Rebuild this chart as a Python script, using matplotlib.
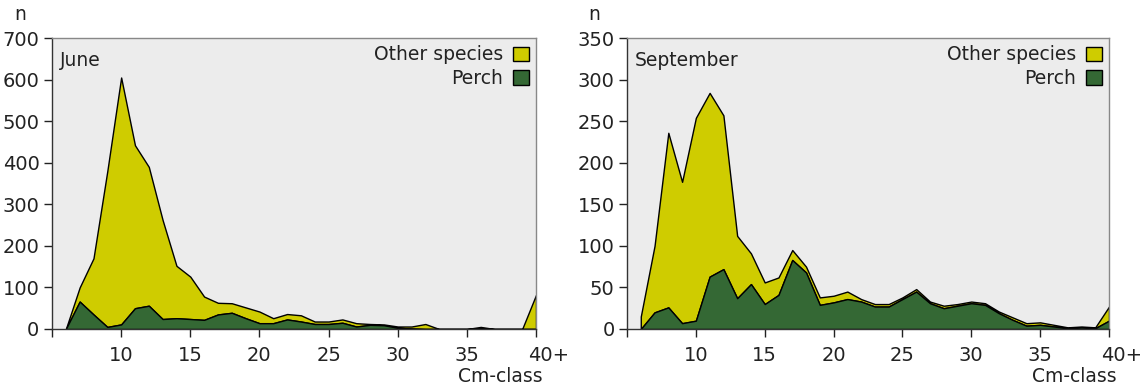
import matplotlib
matplotlib.use("Agg")
import matplotlib.pyplot as plt
from matplotlib.patches import Patch
from matplotlib.transforms import ScaledTranslation

plt.rcParams['font.family'] = ['DejaVu Sans']

# length classes (cm), 40 = "40+"
cm_class = list(range(6, 41))

# June catch
june_perch = [0, 66, 35, 5, 11, 50, 56, 24, 26, 24, 22, 35, 39, 26, 14, 14, 23, 18,
              12, 12, 15, 6, 10, 9, 3, 1, 0, 0, 0, 0, 2, 0, 0, 0, 0]
june_other = [0, 34, 135, 375, 594, 392, 334, 238, 126, 102, 56, 28, 23, 26, 28, 12, 13, 15,
              6, 6, 8, 8, 2, 2, 3, 5, 12, 0, 0, 0, 3, 0, 0, 0, 82]

# September catch
sept_perch = [0, 20, 26, 7, 10, 63, 72, 37, 54, 30, 41, 83, 68, 29, 32, 36, 33, 27,
              27, 36, 45, 31, 25, 28, 31, 29, 19, 11, 4, 5, 3, 1, 2, 1, 10]
sept_other = [15, 80, 210, 170, 244, 221, 185, 75, 37, 26, 21, 12, 7, 9, 8, 9, 3, 3,
              3, 2, 3, 2, 3, 2, 2, 2, 2, 3, 3, 3, 2, 1, 1, 1, 17]

YELLOW = '#cfcc00'
GREEN = '#346834'

fig = plt.figure(figsize=(11.44, 3.9), dpi=100)
ax1 = fig.add_axes([52 / 1144, 61 / 390, 484 / 1144, 291 / 390])
ax2 = fig.add_axes([627 / 1144, 61 / 390, 482 / 1144, 291 / 390])


def draw(ax, perch, other, title, ymax, ystep):
    total = [p + o for p, o in zip(perch, other)]
    ax.set_facecolor('#ececec')
    ax.fill_between(cm_class, perch, total, facecolor=YELLOW, edgecolor='black', lw=1.0)
    ax.fill_between(cm_class, 0, perch, facecolor=GREEN, edgecolor='black', lw=1.0)
    ax.set_xlim(5, 40)
    ax.set_ylim(0, ymax)
    ax.set_xticks([5, 10, 15, 20, 25, 30, 35, 40])
    ax.set_xticklabels(['', '10', '15', '20', '25', '30', '35', '40+'])
    ax.set_yticks(range(0, ymax + 1, ystep))
    ax.tick_params(direction='out', length=6, width=1, labelsize=14, colors='#222222', pad=3)
    ax.tick_params(axis='x', pad=6)
    lab = ax.get_xticklabels()[-1]
    lab.set_horizontalalignment('left')
    lab.set_transform(lab.get_transform() + ScaledTranslation(-8 / 100, 0, fig.dpi_scale_trans))
    for s in ['left', 'bottom']:
        ax.spines[s].set_color('#333333')
        ax.spines[s].set_linewidth(1.0)
    for s in ['top', 'right']:
        ax.spines[s].set_color('#888888')
        ax.spines[s].set_linewidth(1.0)
    ax.text(0.017, 0.955, title, transform=ax.transAxes, ha='left', va='top',
            fontsize=13.5, color='#222222')
    handles = [Patch(facecolor=YELLOW, edgecolor='black', lw=1.0),
               Patch(facecolor=GREEN, edgecolor='black', lw=1.0)]
    leg = ax.legend(handles, ['Other species', 'Perch'], loc='upper right',
                    markerfirst=False, frameon=False, fontsize=13.5,
                    handlelength=0.85, handleheight=0.85, handletextpad=0.5,
                    labelspacing=0.25, borderaxespad=0.2, borderpad=0.2)
    for t in leg.get_texts():
        t.set_color('#222222')


draw(ax1, june_perch, june_other, 'June', 700, 100)
draw(ax2, sept_perch, sept_other, 'September', 350, 50)

fig.text(20 / 1144, 1 - 15 / 390, 'n', ha='center', va='center', fontsize=13.5, color='#222222')
fig.text(594 / 1144, 1 - 15 / 390, 'n', ha='center', va='center', fontsize=13.5, color='#222222')
fig.text(543 / 1144, 1 - 376 / 390, 'Cm-class', ha='right', va='center', fontsize=13.5, color='#222222')
fig.text(1117 / 1144, 1 - 376 / 390, 'Cm-class', ha='right', va='center', fontsize=13.5, color='#222222')

fig.savefig('out.png', dpi=100)
